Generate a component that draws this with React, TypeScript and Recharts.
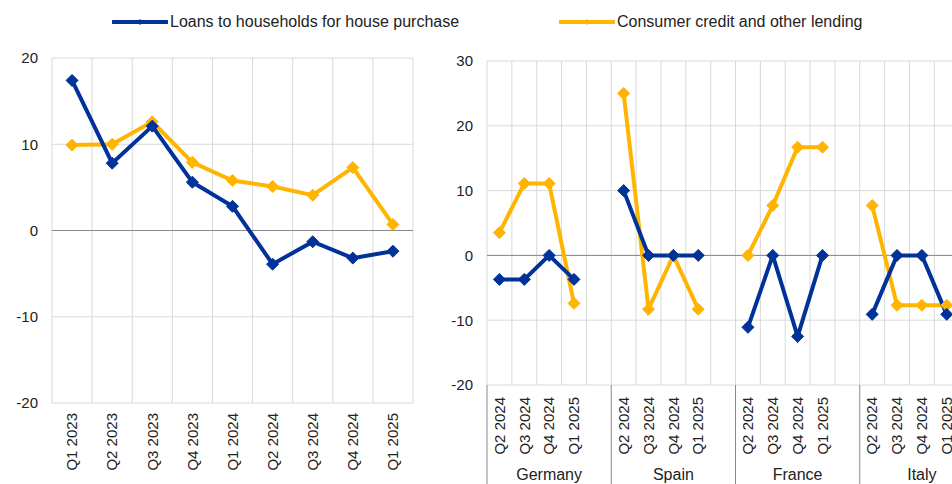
import { LineChart, Line, XAxis, YAxis, CartesianGrid, ReferenceLine } from 'recharts'

const BLUE = '#003299'
const YELLOW = '#FFB400'
const GRID = '#D9D9D9'
const ZERO = '#888888'
const TEXT = '#222222'
const FONT = '"Liberation Sans", Arial, sans-serif'

// euro area, annualised growth (%)
const euroQuarters = ['Q1 2023', 'Q2 2023', 'Q3 2023', 'Q4 2023', 'Q1 2024', 'Q2 2024', 'Q3 2024', 'Q4 2024', 'Q1 2025']
const euroHousePurchase = [17.4, 7.8, 12.1, 5.6, 2.8, -3.9, -1.3, -3.2, -2.4]
const euroConsumer = [9.9, 10.0, 12.6, 7.9, 5.8, 5.1, 4.1, 7.3, 0.7]

// largest countries
const countries = ['Germany', 'Spain', 'France', 'Italy']
const countryQuarters = ['Q2 2024', 'Q3 2024', 'Q4 2024', 'Q1 2025']
const countryHousePurchase = [
  [-3.7, -3.7, 0, -3.7],
  [10.0, 0, 0, 0],
  [-11.1, 0, -12.5, 0],
  [-9.1, 0, 0, -9.1],
]
const countryConsumer = [
  [3.5, 11.1, 11.1, -7.4],
  [25.0, -8.3, 0, -8.3],
  [0, 7.7, 16.7, 16.7],
  [7.7, -7.7, -7.7, -7.7],
]

const leftTicks = [-20, -10, 0, 10, 20]
const rightTicks = [-20, -10, 0, 10, 20, 30]

const euroData = euroQuarters.map((q, i) => ({
  q,
  house: euroHousePurchase[i],
  consumer: euroConsumer[i],
}))

// each country: four quarters plus an empty slot
const countryData = countries.flatMap((country, c) => [
  ...countryQuarters.map((q, i) => ({
    id: `${country} ${q}`,
    q,
    country,
    house: countryHousePurchase[c][i] as number | null,
    consumer: countryConsumer[c][i] as number | null,
  })),
  { id: `${country} gap`, q: '', country, house: null, consumer: null },
])

const RIGHT_W = 560
const RIGHT_YAXIS = 57
const RIGHT_MR = 6
const BAND = (RIGHT_W - RIGHT_YAXIS - RIGHT_MR) / countryData.length

const bandLines = (n: number) => (props: any) => {
  const o = props.offset
  return Array.from({ length: n + 1 }, (_, i) => o.left + (i * o.width) / n)
}

const diamond = (color: string, r: number) => (p: any) => {
  if (p.cx == null || p.cy == null || p.value == null) return <g key={p.key ?? p.index} />
  const { cx, cy } = p
  return (
    <path
      key={p.key ?? p.index}
      d={`M${cx},${cy - r}L${cx + r},${cy}L${cx},${cy + r}L${cx - r},${cy}Z`}
      fill={color}
      stroke={color}
      strokeWidth={1}
    />
  )
}

const RotatedLabel = ({ x, y, label }: { x: number; y: number; label: string }) => (
  <text
    x={x}
    y={y}
    transform={`rotate(-90, ${x}, ${y})`}
    textAnchor="end"
    dy="0.35em"
    fontSize={15}
    fontFamily={FONT}
    fill={TEXT}
  >
    {label}
  </text>
)

const LeftTick = ({ x, y, payload }: any) => <RotatedLabel x={x} y={y + 10} label={payload.value} />

const RightTick = ({ x, y, index }: any) => {
  const row = countryData[index]
  const slot = index % 5
  return (
    <g>
      {row.q && <RotatedLabel x={x} y={y + 12} label={row.q} />}
      {slot === 0 && <line x1={x - BAND / 2} x2={x - BAND / 2} y1={y} y2={y + 100} stroke={ZERO} strokeWidth={1} />}
      {slot === 2 && (
        <text x={x} y={y + 95} textAnchor="middle" fontSize={16} fontFamily={FONT} fill={TEXT}>
          {row.country}
        </text>
      )}
    </g>
  )
}

const yTick = { fontSize: 15, fontFamily: FONT, fill: TEXT }

function LegendItem({ left, color, label }: { left: number; color: string; label: string }) {
  return (
    <div style={{ position: 'absolute', left, top: 12, display: 'flex', alignItems: 'center', fontFamily: FONT, fontSize: 16, color: TEXT, whiteSpace: 'nowrap' }}>
      <svg width={56} height={10} style={{ display: 'block' }}>
        <line x1={1} x2={55} y1={5} y2={5} stroke={color} strokeWidth={4} strokeLinecap="round" />
        <path d="M28,2L31,5L28,8L25,5Z" fill={color} />
      </svg>
      <span style={{ marginLeft: 2, lineHeight: '20px' }}>{label}</span>
    </div>
  )
}

export default function App() {
  return (
    <div style={{ position: 'fixed', left: 0, top: 0, width: 952, height: 484, overflow: 'hidden', background: '#fff' }}>
      <LegendItem left={112} color={BLUE} label="Loans to households for house purchase" />
      <LegendItem left={559} color={YELLOW} label="Consumer credit and other lending" />

      <div style={{ position: 'absolute', left: 0, top: 0 }}>
        <LineChart width={430} height={484} data={euroData} margin={{ top: 58, right: 17, bottom: 0, left: 0 }}>
          <CartesianGrid stroke={GRID} verticalCoordinatesGenerator={bandLines(euroData.length)} />
          <XAxis dataKey="q" scale="band" interval={0} height={81} tickSize={0} tickMargin={0} tickLine={false} axisLine={false} tick={<LeftTick />} />
          <YAxis width={52} domain={[-20, 20]} ticks={leftTicks} tickSize={0} tickMargin={14} tickLine={false} axisLine={false} tick={yTick} />
          <ReferenceLine y={0} stroke={ZERO} strokeWidth={1} />
          <Line dataKey="consumer" stroke={YELLOW} strokeWidth={4} dot={diamond(YELLOW, 6)} isAnimationActive={false} />
          <Line dataKey="house" stroke={BLUE} strokeWidth={4} dot={diamond(BLUE, 6)} isAnimationActive={false} />
        </LineChart>
      </div>

      <div style={{ position: 'absolute', left: 430, top: 0 }}>
        <LineChart width={RIGHT_W} height={484} data={countryData} margin={{ top: 61, right: RIGHT_MR, bottom: 0, left: 0 }}>
          <CartesianGrid stroke={GRID} verticalCoordinatesGenerator={bandLines(countryData.length)} />
          <XAxis dataKey="id" scale="band" interval={0} height={99} tickSize={0} tickMargin={0} tickLine={false} axisLine={false} tick={<RightTick />} />
          <YAxis width={RIGHT_YAXIS} domain={[-20, 30]} ticks={rightTicks} tickSize={0} tickMargin={14} tickLine={false} axisLine={false} tick={yTick} />
          <ReferenceLine y={0} stroke={ZERO} strokeWidth={1} />
          <Line dataKey="consumer" stroke={YELLOW} strokeWidth={4} dot={diamond(YELLOW, 6)} isAnimationActive={false} />
          <Line dataKey="house" stroke={BLUE} strokeWidth={4} dot={diamond(BLUE, 6)} isAnimationActive={false} />
        </LineChart>
      </div>
    </div>
  )
}
